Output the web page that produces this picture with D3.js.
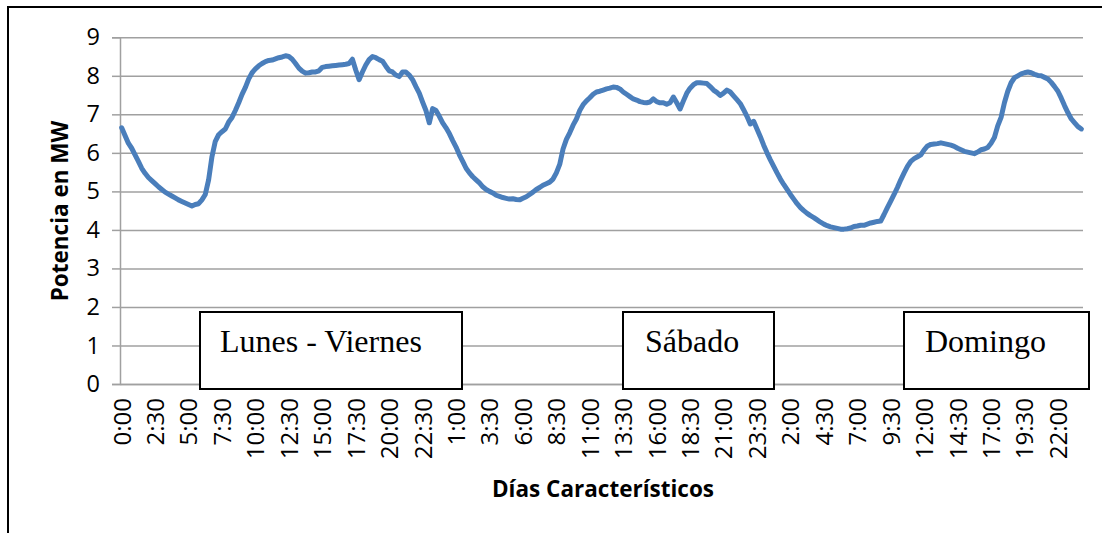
<!DOCTYPE html>
<html>
<head>
<meta charset="utf-8">
<script src="https://cdn.jsdelivr.net/npm/d3@7"></script>
<style>
  body { margin: 0; background: #fff; }
  svg { display: block; }
</style>
</head>
<body>
<svg id="chart" width="1102" height="533"></svg>
<script>
// Tick labels (every 10th 15-minute interval across three characteristic days)
const tickLabels = ["0:00","2:30","5:00","7:30","10:00","12:30","15:00","17:30","20:00","22:30",
  "1:00","3:30","6:00","8:30","11:00","13:30","16:00","18:30","21:00","23:30",
  "2:00","4:30","7:00","9:30","12:00","14:30","17:00","19:30","22:00"];

// Weekday (Lunes - Viernes) power, MW, every 15 min
const weekday = [6.65,6.45,6.25,6.12,5.95,5.78,5.6,5.47,5.36,5.28,5.2,5.12,5.05,4.98,4.93,4.88,
  4.83,4.78,4.74,4.7,4.66,4.62,4.66,4.68,4.78,4.92,5.3,5.9,6.3,6.47,6.55,6.62,
  6.8,6.92,7.1,7.3,7.52,7.7,7.92,8.08,8.18,8.26,8.32,8.37,8.4,8.41,8.44,8.47,
  8.49,8.52,8.5,8.43,8.32,8.2,8.12,8.07,8.08,8.1,8.1,8.13,8.22,8.24,8.25,8.26,
  8.27,8.28,8.29,8.3,8.32,8.43,8.15,7.9,8.1,8.28,8.42,8.5,8.47,8.42,8.38,8.25,
  8.13,8.1,8.02,7.98,8.1,8.1,8.02,7.9,7.72,7.55,7.32,7.1,6.78,7.15,7.1,6.95];

// Saturday (Sábado)
const saturday = [6.78,6.65,6.5,6.32,6.15,5.95,5.78,5.6,5.48,5.38,5.3,5.22,5.12,5.05,5.0,4.96,
  4.9,4.87,4.84,4.82,4.8,4.81,4.79,4.78,4.82,4.86,4.92,4.98,5.05,5.1,5.16,5.2,
  5.24,5.32,5.48,5.7,6.1,6.35,6.52,6.72,6.88,7.1,7.25,7.35,7.43,7.52,7.58,7.6,
  7.63,7.66,7.68,7.71,7.7,7.66,7.58,7.52,7.46,7.4,7.37,7.33,7.31,7.3,7.32,7.4,
  7.33,7.3,7.3,7.26,7.3,7.45,7.3,7.14,7.35,7.55,7.68,7.77,7.82,7.82,7.81,7.8,
  7.72,7.63,7.57,7.49,7.55,7.63,7.58,7.48,7.38,7.28,7.12,6.95,6.75,6.82,6.62,6.42];

// Sunday (Domingo)
const sunday = [6.2,6.0,5.82,5.65,5.48,5.32,5.18,5.05,4.92,4.8,4.68,4.58,4.5,4.43,4.37,4.32,
  4.26,4.2,4.15,4.11,4.08,4.06,4.04,4.02,4.02,4.03,4.05,4.09,4.1,4.12,4.12,4.15,
  4.18,4.2,4.22,4.23,4.4,4.58,4.75,4.92,5.1,5.3,5.48,5.65,5.78,5.85,5.9,5.95,
  6.08,6.18,6.22,6.23,6.24,6.26,6.24,6.22,6.2,6.17,6.12,6.08,6.04,6.02,6.0,5.98,
  6.02,6.08,6.1,6.14,6.25,6.4,6.7,6.92,7.3,7.6,7.82,7.95,8.0,8.05,8.08,8.1,
  8.08,8.04,8.01,8.0,7.96,7.92,7.83,7.72,7.6,7.42,7.22,7.04,6.88,6.78,6.68,6.62];

const dayNames = ["Lunes - Viernes", "Sábado", "Domingo"];
const yTicks = [0,1,2,3,4,5,6,7,8,9];

(function () {
const values = weekday.concat(saturday, sunday);
const idx = d3.range(values.length);

const svg = d3.select("#chart");
const pL = 120, pR = 1083, pT = 37.3, pB = 384;

// outer frame
svg.append("rect").attr("x", 8).attr("y", 7).attr("width", 1120).attr("height", 560)
  .attr("fill", "none").attr("stroke", "#000").attr("stroke-width", 2);

const x = d3.scalePoint().domain(idx).range([pL, pR]).padding(0.5);
const y = d3.scaleLinear().domain([0, 9]).range([pB, pT]);

const gridColor = "#a0a0a0";

// gridlines
svg.append("g")
  .attr("transform", `translate(${pL},0)`)
  .call(d3.axisLeft(y).tickValues(yTicks).tickSize(-(pR - pL)).tickFormat(""))
  .call(g => g.select(".domain").remove())
  .call(g => g.selectAll("line").attr("stroke", gridColor).attr("stroke-width", 1.5));

// y axis ticks + labels
svg.append("g")
  .attr("transform", `translate(${pL},0)`)
  .call(d3.axisLeft(y).tickValues(yTicks).tickSize(8).tickPadding(12))
  .call(g => g.select(".domain").attr("stroke", gridColor).attr("stroke-width", 1.5))
  .call(g => g.selectAll("line").attr("stroke", gridColor).attr("stroke-width", 1.5))
  .call(g => g.selectAll("text").attr("font-family", "'Open Sans', sans-serif")
    .attr("font-size", 23.5).attr("fill", "#000"));

// x axis
svg.append("g")
  .attr("transform", `translate(0,${pB})`)
  .call(d3.axisBottom(x).tickValues(idx.filter(i => i % 10 === 0))
    .tickFormat(i => tickLabels[i / 10]).tickSize(0).tickSizeOuter(0))
  .call(g => g.select(".domain").attr("stroke", gridColor).attr("stroke-width", 1.5))
  .call(g => g.selectAll("text")
    .attr("font-family", "'Open Sans', sans-serif").attr("font-size", 24).attr("fill", "#000")
    .attr("transform", "rotate(-90)")
    .attr("text-anchor", "end")
    .attr("x", -14).attr("y", 0).attr("dy", "0.35em"));

// line
svg.append("path")
  .datum(idx)
  .attr("fill", "none")
  .attr("stroke", "#4a7ebb")
  .attr("stroke-width", 5)
  .attr("stroke-linejoin", "round")
  .attr("stroke-linecap", "round")
  .attr("d", d3.line().x(i => x(i)).y(i => y(values[i])));

// day boxes
const boxes = [
  {x0: 200, x1: 462, tx: 220},
  {x0: 623, x1: 774, tx: 645},
  {x0: 904, x1: 1089, tx: 925}
];
boxes.forEach((b, k) => {
  svg.append("rect").attr("x", b.x0).attr("y", 312).attr("width", b.x1 - b.x0).attr("height", 77)
    .attr("fill", "#fff").attr("stroke", "#000").attr("stroke-width", 2);
  svg.append("text").attr("x", b.tx).attr("y", 352)
    .attr("font-family", "'Liberation Serif', 'Times New Roman', serif").attr("font-size", 32)
    .attr("fill", "#000").text(dayNames[k]);
});

// axis titles
svg.append("text")
  .attr("transform", `translate(68,211) rotate(-90)`)
  .attr("text-anchor", "middle")
  .attr("font-family", "'Open Sans', sans-serif").attr("font-weight", "bold").attr("font-size", 22.5)
  .text("Potencia en MW");

svg.append("text")
  .attr("x", 603).attr("y", 497)
  .attr("text-anchor", "middle")
  .attr("font-family", "'Open Sans', sans-serif").attr("font-weight", "bold").attr("font-size", 22.5)
  .text("Días Característicos");
})();
</script>
</body>
</html>
